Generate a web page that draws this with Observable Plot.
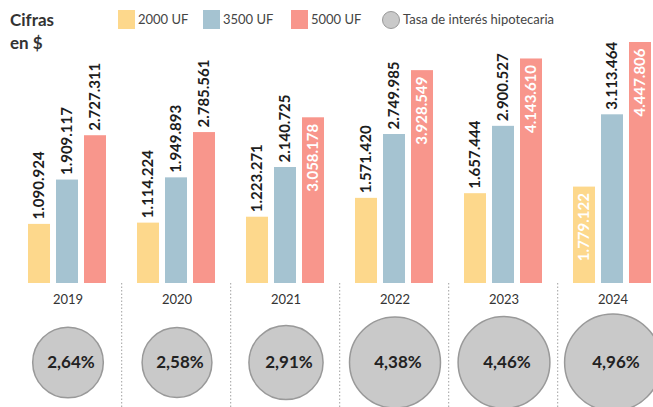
<!DOCTYPE html>
<html><head><meta charset="utf-8">
<script src="https://cdn.jsdelivr.net/npm/d3@7"></script>
<script src="https://cdn.jsdelivr.net/npm/@observablehq/plot@0.6"></script>
<style>
html,body{margin:0;padding:0;background:#fff;overflow:hidden;}
body{width:653px;height:407px;font-family:Lato, "Open Sans", sans-serif;}
#hdr{position:relative;height:38px;z-index:2;}
#hdr .t{position:absolute;left:10px;top:8px;font-weight:700;font-size:17px;line-height:23px;color:#333;}
#hdr .sw{position:absolute;top:10px;width:17px;height:19px;}
#hdr .lb{position:absolute;top:11px;font-size:13px;line-height:17px;color:#444;white-space:nowrap;}
#hdr .cir{position:absolute;top:11px;width:18px;height:18px;border-radius:50%;background:#c9c9c9;border:1px solid #999;box-sizing:border-box;}
#chart{position:relative;z-index:1;}
</style></head><body>
<div id="hdr"></div>
<div id="chart"></div>
<script>
// ---- data ----
const years = ["2019", "2020", "2021", "2022", "2023", "2024"];
const series = ["2000 UF", "3500 UF", "5000 UF"];
const uf2000 = [1090924, 1114224, 1223271, 1571420, 1657444, 1779122];
const uf3500 = [1909117, 1949893, 2140725, 2749985, 2900527, 3113464];
const uf5000 = [2727311, 2785561, 3058178, 3928549, 4143610, 4447806];
const rates = [2.64, 2.58, 2.91, 4.38, 4.46, 4.96];
const titleLines = ["Cifras", "en $"];
const rateLegend = "Tasa de interés hipotecaria";

// ---- styles ----
const colors = ["#fdd88c", "#a5c3d1", "#f8968c"];
const insideKeys = new Set(["2021|5000 UF", "2022|5000 UF", "2023|5000 UF", "2024|5000 UF", "2024|2000 UF"]);

const loc = d3.formatLocale({decimal: ",", thousands: ".", grouping: [3], currency: ["$", ""]});
const fmtMoney = loc.format(",d");
const fmtRate = d => loc.format(".2f")(d) + "%";

// ---- header / legend ----
const hdr = document.getElementById("hdr");
const t = document.createElement("div");
t.className = "t"; t.innerHTML = titleLines.join("<br>");
hdr.appendChild(t);
const swX = [118, 203, 291];
series.forEach((s, i) => {
  const sw = document.createElement("div");
  sw.className = "sw"; sw.style.left = swX[i] + "px"; sw.style.background = colors[i];
  hdr.appendChild(sw);
  const lb = document.createElement("div");
  lb.className = "lb"; lb.style.left = (swX[i] + 20) + "px"; lb.textContent = s;
  hdr.appendChild(lb);
});
const c = document.createElement("div");
c.className = "cir"; c.style.left = "382px"; hdr.appendChild(c);
const cl = document.createElement("div");
cl.className = "lb"; cl.style.left = "403px"; cl.textContent = rateLegend; hdr.appendChild(cl);

// ---- chart ----
const barData = years.flatMap((year, i) =>
  [uf2000[i], uf3500[i], uf5000[i]].map((value, j) => ({year, series: series[j], value})));
const rateData = years.map((year, i) => ({year, rate: rates[i]}));
const isInside = d => insideKeys.has(d.year + "|" + d.series);

const chart = Plot.plot({
  width: 653, height: 369,
  marginTop: 4, marginBottom: 124, marginLeft: 12, marginRight: -14.2,
  style: {background: "transparent", fontFamily: "Lato, sans-serif", overflow: "visible"},
  fx: {domain: years, padding: 0, axis: null},
  x: {domain: series, paddingInner: 0.2, paddingOuter: 0, insetLeft: 14, insetRight: 14.2, axis: null},
  y: {domain: [0, d3.max(uf5000)], axis: null},
  color: {domain: series, range: colors},
  r: {domain: [0, d3.max(rates)], range: [0, 48.4]},
  marks: [
    Plot.ruleX(rateData.slice(1), {fx: "year", x: () => series[0], dx: -26.8,
      insetTop: 241, insetBottom: -124, stroke: "#a0a0a0", strokeWidth: 1, strokeDasharray: "1.5,2"}),
    Plot.barY(barData, {fx: "year", x: "series", y: "value", fill: "series"}),
    Plot.text(barData.filter(d => !isInside(d)), {fx: "year", x: "series", y: "value",
      text: d => fmtMoney(d.value), rotate: -90, textAnchor: "start", dy: -5,
      fontWeight: 700, fontSize: 15, fill: "#1d1d1d"}),
    Plot.text(barData.filter(isInside), {fx: "year", x: "series", y: "value",
      text: d => fmtMoney(d.value), rotate: -90, textAnchor: "end", dy: 6,
      fontWeight: 700, fontSize: 15, fill: "#ffffff"}),
    Plot.text(rateData, {fx: "year", text: "year", frameAnchor: "bottom", lineAnchor: "middle",
      dy: 16, fontSize: 13, fill: "#333"}),
    Plot.dot(rateData, {fx: "year", r: "rate", frameAnchor: "bottom", dy: 79,
      fill: "#c9c9c9", stroke: "#999", strokeWidth: 1.5}),
    Plot.text(rateData, {fx: "year", text: d => fmtRate(d.rate), frameAnchor: "bottom", lineAnchor: "middle",
      dy: 79, dx: 3, fontSize: 17, fontWeight: 700, fill: "#222"})
  ]
});
document.getElementById("chart").appendChild(chart);
</script>
</body></html>
